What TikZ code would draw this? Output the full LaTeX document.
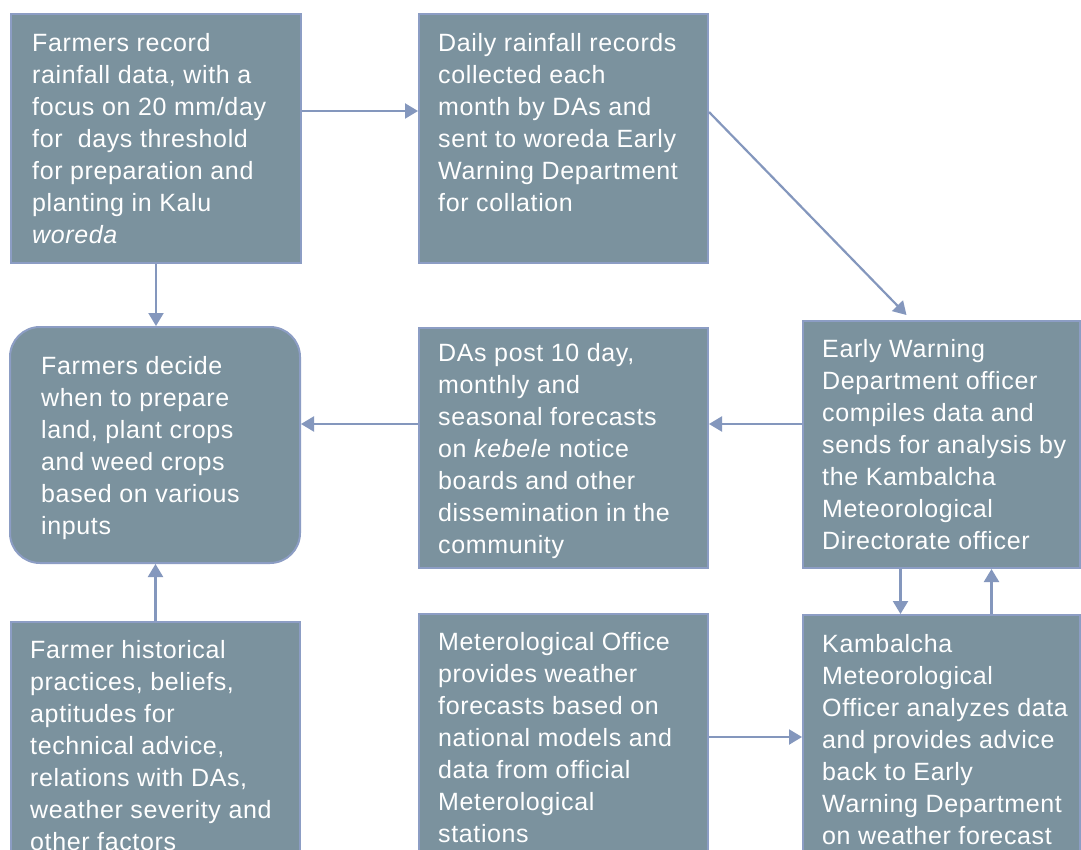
\documentclass[tikz,border=0pt]{standalone}
\usepackage{fontspec}
\setmainfont{Liberation Sans}[LetterSpace=2.5]
\usetikzlibrary{arrows.meta,calc}
\definecolor{boxfill}{RGB}{123,146,158}
\definecolor{boxline}{RGB}{140,157,196}
\definecolor{arrowc}{RGB}{132,151,189}
\newcommand{\firststrut}{\rule{0pt}{24pt}}
\tikzset{
  boxnode/.style={draw=boxline, fill=boxfill, line width=2pt, rectangle, anchor=north west, inner sep=0pt},
  txtnode/.style={anchor=north west, inner sep=0pt, align=left, text=white, font=\fontsize{25}{32}\selectfont},
  arr/.style={draw=arrowc, line width=2.2pt, -{Triangle[length=13pt,width=15pt]}}
}
\begin{document}
\begin{tikzpicture}[x=1pt,y=-1pt]
\useasboundingbox (0,0) rectangle (1081,850);
\clip (0,0) rectangle (1081,850);
\fill[white] (0,0) rectangle (1081,850);
% boxes
\node[boxnode, minimum width=290pt, minimum height=249pt] (A) at (10,13) {};
\node[boxnode, minimum width=289pt, minimum height=249pt] (B) at (418,13) {};
\node[boxnode, rounded corners=30pt, minimum width=290pt, minimum height=236pt] (C) at (9,326) {};
\node[boxnode, minimum width=289pt, minimum height=240pt] (D) at (418,327) {};
\node[boxnode, minimum width=277pt, minimum height=247pt] (E) at (802,320) {};
\node[boxnode, minimum width=289pt, minimum height=260pt] (F) at (10,621) {};
\node[boxnode, minimum width=289pt, minimum height=260pt] (G) at (418,613) {};
\node[boxnode, minimum width=277pt, minimum height=260pt] (H) at (802,614) {};
% texts
\node[txtnode] (tA) at (32,27) {\firststrut Farmers record\\rainfall data, with a\\focus on 20 mm/day\\for\ \ days threshold\\for preparation and\\planting in Kalu\\\textit{woreda}};
\node[txtnode] (tB) at (438,27) {\firststrut Daily rainfall records\\collected each\\month by DAs and\\sent to woreda Early\\Warning Department\\for collation};
\node[txtnode] (tC) at (41,350) {\firststrut Farmers decide\\when to prepare\\land, plant crops\\and weed crops\\based on various\\inputs};
\node[txtnode] (tD) at (438,337) {\firststrut DAs post 10 day,\\monthly and\\seasonal forecasts\\on \textit{kebele} notice\\boards and other\\dissemination in the\\community};
\node[txtnode] (tE) at (822,333) {\firststrut Early Warning\\Department officer\\compiles data and\\sends for analysis by\\the Kambalcha\\Meteorological\\Directorate officer};
\node[txtnode] (tF) at (30,634) {\firststrut Farmer historical\\practices, beliefs,\\aptitudes for\\technical advice,\\relations with DAs,\\weather severity and\\other factors};
\node[txtnode] (tG) at (438,626) {\firststrut Meterological Office\\provides weather\\forecasts based on\\national models and\\data from official\\Meterological\\stations};
\node[txtnode] (tH) at (822,628) {\firststrut Kambalcha\\Meteorological\\Officer analyzes data\\and provides advice\\back to Early\\Warning Department\\on weather forecast};
% connectors
\path ([yshift=-98pt]A.north east) coordinate (a1);
\draw[arr] (a1) -- (B.west |- a1);
\draw[arr] (A.south) -- (A.south |- C.north);
\draw[arr] (F.north) -- (F.north |- C.south);
\path ([yshift=-97pt]D.north west) coordinate (d1);
\draw[arr] (d1) -- (C.east |- d1);
\draw[arr] (E.west |- d1) -- (D.east |- d1);
\path ([yshift=-99pt]B.north east) coordinate (b1);
\path ([xshift=-35pt,yshift=5pt]E.north) coordinate (e1);
\draw[arr] (b1) -- (e1);
\draw[arr] ([xshift=-41pt]E.south) -- ([xshift=-41pt]H.north);
\draw[arr] ([xshift=50pt]H.north) -- ([xshift=50pt]E.south);
\path ([yshift=-124pt]G.north east) coordinate (g1);
\draw[arr] (g1) -- (H.west |- g1);
\end{tikzpicture}
\end{document}
